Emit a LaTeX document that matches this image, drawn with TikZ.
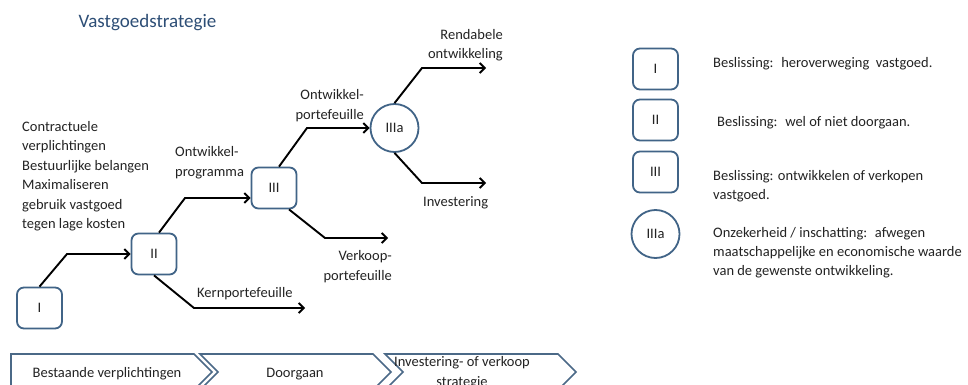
\documentclass[tikz,border=0pt]{standalone}
\usepackage{fontspec}
\setmainfont{Carlito}
\usetikzlibrary{arrows.meta}
\definecolor{boxblue}{RGB}{65,100,135}
\definecolor{titleblue}{RGB}{45,78,118}
\definecolor{chevblue}{RGB}{75,105,135}
\definecolor{txt}{RGB}{35,35,35}
\begin{document}
\begin{tikzpicture}[x=1pt,y=-1pt,
  decision/.style={draw=boxblue, line width=1.8pt, rounded corners=7pt, fill=white,
    minimum width=45pt, minimum height=41pt, inner sep=0pt, text=txt,
    font=\fontsize{14.5}{19}\selectfont},
  uncert/.style={circle, draw=boxblue, line width=1.8pt, fill=white, minimum size=48pt,
    inner sep=0pt, text=txt, font=\fontsize{14.5}{19}\selectfont},
  flow/.style={draw=black, line width=1.9pt, -{Straight Barb[length=5pt,width=10pt]}},
  lbl/.style={font=\fontsize{14.5}{19.5}\selectfont, inner sep=0pt, text=txt},
  chev/.style={draw=chevblue, line width=1.6pt, fill=white, line join=miter}
]
\useasboundingbox (0,0) rectangle (968,385);
\clip (0,0) rectangle (968,385);
\fill[white] (0,0) rectangle (968,385);

% title
\node[inner sep=0pt, anchor=base, text=titleblue, font=\fontsize{19}{23}\selectfont] (title) at (147.5,27.5) {Vastgoedstrategie};

% decision nodes
\node[decision] (I) at (39.5,308) {I};
\node[decision] (II) at (154,254) {II};
\node[decision] (III) at (274,188) {III};
\node[uncert] (IIIa) at (394.5,128) {IIIa};

% bends and free ends
\coordinate (b1) at (67,254);
\coordinate (b2) at (185,198);
\coordinate (b3) at (194,308);
\coordinate (e3) at (305,308);
\coordinate (b4) at (325,238);
\coordinate (e4) at (388,238);
\coordinate (b5) at (307,128);
\coordinate (b6) at (422,68);
\coordinate (e6) at (486,68);
\coordinate (b7) at (422,183);
\coordinate (e7) at (486,183);

\draw[flow] (I.north) -- (b1) -- (II.west);
\draw[flow] ([xshift=5pt]II.north) -- (b2) -- (b2 -| III.west);
\draw[flow] (II.south) -- (b3) -- (e3);
\draw[flow] ([xshift=15pt]III.south) -- (b4) -- (e4);
\draw[flow] ([xshift=5pt]III.north) -- (b5) -- (IIIa.west);
\draw[flow] (IIIa.north) -- (b6) -- (e6);
\draw[flow] (IIIa.south) -- (b7) -- (e7);

% labels (base anchor = baseline of last line)
\node[lbl, anchor=base west, align=left] (ctx) at (22,228.5)
  {Contractuele\\verplichtingen\\Bestuurlijke belangen\\Maximaliseren\\gebruik vastgoed\\tegen lage kosten};
\node[lbl, anchor=base west, align=left] (ontprog) at (175,176) {Ontwikkel-\\programma};
\node[lbl, anchor=base east, align=right] (ontport) at (364,119.5) {Ontwikkel-\\portefeuille};
\node[lbl, anchor=base east, align=right] (rend) at (503,59) {Rendabele\\ontwikkeling};
\node[lbl, anchor=base west] (inv) at (423,206) {Investering};
\node[lbl, anchor=base east, align=right] (verk) at (392,280) {Verkoop-\\portefeuille};
\node[lbl, anchor=base west] (kern) at (197,297) {Kernportefeuille};

% legend
\node[decision] (LI) at (655.5,69) {I};
\node[decision] (LII) at (655.5,120) {II};
\node[decision] (LIII) at (655.5,172) {III};
\node[uncert] (LIIIa) at (655.5,234) {IIIa};
\node[lbl, anchor=base west] (t1) at (713,68) {Beslissing:~ heroverweging~ vastgoed.};
\node[lbl, anchor=base west] (t2) at (717,127) {Beslissing:~ wel of niet doorgaan.};
\node[lbl, anchor=base west, align=left] (t3) at (713,199.5) {Beslissing: ontwikkelen of verkopen\\vastgoed.};
\node[lbl, anchor=base west, align=left, font=\fontsize{14.5}{19}\selectfont] (t4) at (713,275)
  {Onzekerheid / inschatting:~ afwegen\\maatschappelijke en economische waarde\\van de gewenste ontwikkeling.};

% chevrons
\draw[chev] (11,354) -- (194,354) -- (212,372) -- (194,390) -- (11,390) -- cycle;
\draw[chev] (200,354) -- (373,354) -- (391,372) -- (373,390) -- (200,390) -- (218,372) -- cycle;
\draw[chev] (385,354) -- (558,354) -- (576,372) -- (558,390) -- (385,390) -- (403,372) -- cycle;
\node[lbl, anchor=base] (c1) at (107,377) {Bestaande verplichtingen};
\node[lbl, anchor=base] (c2) at (295,377) {Doorgaan};
\node[lbl, anchor=base, align=center] (c3) at (462,386) {Investering- of verkoop\\strategie};
\end{tikzpicture}
\end{document}
